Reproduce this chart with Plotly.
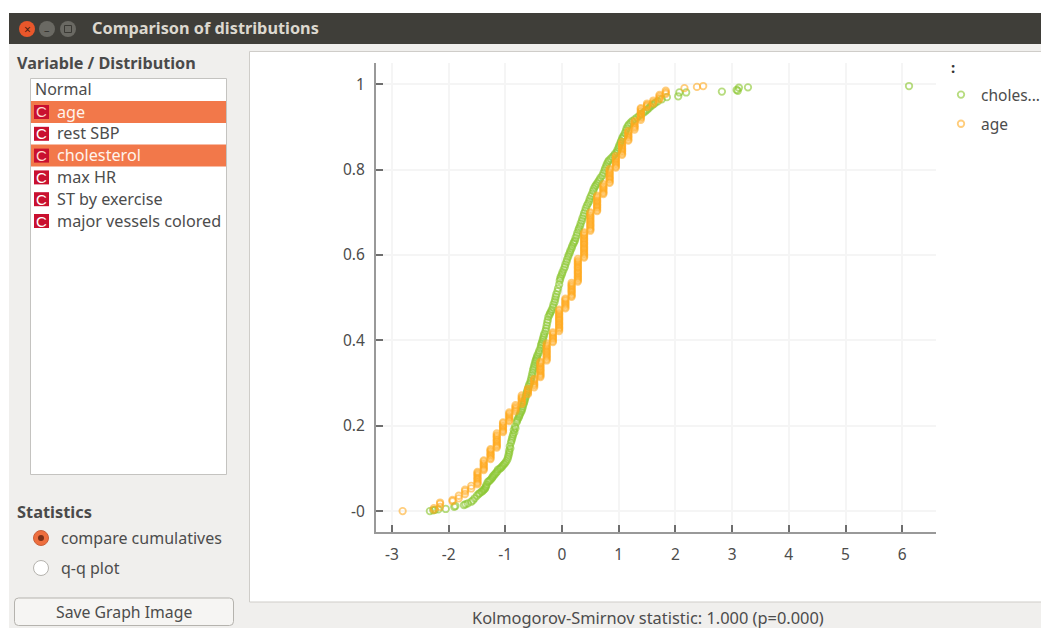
import plotly.graph_objects as go

W, H = 1041, 628

TITLE = "Comparison of distributions"
VARIABLES = ["age", "rest SBP", "cholesterol", "max HR", "ST by exercise", "major vessels colored"]
SELECTED = ["age", "cholesterol"]
X_TICKS = [-3, -2, -1, 0, 1, 2, 3, 4, 5, 6]
X_LABELS = ["-3", "-2", "-1", "0", "1", "2", "3", "4", "5", "6"]
Y_TICKS = [0, 0.2, 0.4, 0.6, 0.8, 1]
Y_LABELS = ["-0", "0.2", "0.4", "0.6", "0.8", "1"]

cholesterol_x = [-2.33, -2.27, -2.24, -2.18, -2.05, -1.90, -1.88, -1.73, -1.70, -1.66, -1.60, -1.57, -1.54, -1.50, -1.47, -1.42, -1.38, -1.35, -1.33, -1.31,
    -1.27, -1.23, -1.20, -1.16, -1.13, -1.08, -1.04, -1.00, -.96, -.94, -.93, -.92, -.90, -.88, -.86, -.85, -.83, -.80, -.78, -.75,
    -.72, -.70, -.68, -.66, -.64, -.62, -.60, -.58, -.55, -.53, -.51, -.49, -.47, -.45, -.43, -.40, -.37, -.35, -.33, -.31,
    -.28, -.26, -.24, -.21, -.18, -.15, -.12, -.10, -.07, -.04, -.02, .01, .05, .08, .11, .14, .17, .20, .23, .26,
    .29, .32, .35, .38, .41, .44, .48, .51, .55, .58, .62, .66, .71, .75, .78, .81, .86, .92, .97, 1.00,
    1.03, 1.06, 1.09, 1.13, 1.16, 1.21, 1.28, 1.36, 1.44, 1.50, 1.56, 1.62, 1.69, 1.76, 1.85, 2.05, 2.07, 2.19, 2.82, 3.08,
    3.10, 3.12, 3.28, 6.12,
    -1.45, -1.40, -1.36, -1.34, -1.29, -1.25, -1.22, -1.18, -1.14, -1.10, -1.06, -1.02, -.98, -.95, -.93, -.91, -.89, -.87, -.84, -.82, -.79, -.76, -.74, -.71,
    -.69, -.67, -.65, -.63, -.61, -.59, -.56, -.54, -.52, -.50, -.48, -.46, -.44, -.41, -.38, -.36, -.34, -.32, -.29, -.27, -.25, -.22, -.19, -.16, -.13, -.11,
    -.08, -.05, -.03, .00, .03, .06, .09, .12, .15, .18, .21, .24, .27, .30, .33, .36, .39, .42, .46, .49, .53, .56, .60, .64, .68, .73, .76, .79, .83, .89, .94, .98,
    1.01, 1.04, 1.07, 1.11, 1.14, 1.18, 1.24, 1.32, 1.40, 1.47, 1.53, 1.59, 1.65]
cholesterol_y = [0, .002, .003, .004, .005, .010, .012, .014, .016, .018, .022, .025, .030, .036, .040, .045, .050, .055, .062, .068,
    .072, .078, .084, .090, .097, .101, .107, .113, .122, .132, .142, .152, .160, .170, .180, .190, .198, .208, .216, .224,
    .232, .240, .250, .258, .268, .278, .286, .296, .306, .318, .330, .340, .350, .358, .366, .376, .388, .396, .406, .416,
    .428, .442, .455, .464, .472, .484, .496, .508, .522, .540, .550, .560, .572, .584, .596, .606, .616, .626, .634, .646,
    .658, .668, .680, .692, .704, .716, .726, .738, .750, .760, .768, .776, .786, .798, .808, .818, .826, .834, .842, .852,
    .862, .872, .880, .892, .902, .910, .918, .926, .934, .940, .948, .954, .960, .965, .970, .972, .981, .981, .983, .987,
    .985, .992, .993, .996,
    .042, .047, .052, .058, .070, .075, .081, .087, .093, .099, .104, .110, .117, .127, .137, .147, .165, .175, .185, .194, .212, .220, .228, .236,
    .245, .254, .263, .273, .282, .291, .301, .312, .324, .335, .345, .354, .362, .371, .382, .392, .401, .411, .422, .435, .448, .460, .468, .478, .490, .502,
    .515, .531, .545, .555, .566, .578, .590, .601, .611, .621, .630, .640, .652, .663, .674, .686, .698, .710, .721, .732, .744, .755, .764, .772, .781, .792, .803, .813, .822, .830, .838, .847,
    .857, .867, .876, .886, .897, .906, .914, .922, .930, .937, .944, .951, .957]

age_x = [-2.81, -2.26, -2.26, -2.15, -2.15, -2.15, -1.93, -1.93, -1.82, -1.82, -1.71, -1.71, -1.71, -1.60, -1.60,
    -1.49, -1.49, -1.49, -1.49, -1.49, -1.38, -1.38, -1.38, -1.38, -1.26, -1.26, -1.26, -1.26,
    -1.15, -1.15, -1.15, -1.15, -1.15, -1.15, -1.04, -1.04, -1.04, -1.04, -.93, -.93, -.93, -.93,
    -.82, -.82, -.82, -.71, -.71, -.71, -.71, -.60, -.60, -.60, -.49, -.49, -.49, -.49,
    -.38, -.38, -.38, -.38, -.38, -.38, -.27, -.27, -.27, -.27, -.27, -.27, -.27, -.16, -.16, -.16, -.16,
    -.05, -.05, -.05, -.05, -.05, -.05, -.05, -.05, -.05, .06, .06, .06, .06,
    .17, .17, .17, .17, .17, .17, .28, .28, .28, .28, .28, .28, .28, .28, .28,
    .39, .39, .39, .39, .39, .39, .39, .39, .39, .39, .50, .50, .50, .50, .50, .50, .50,
    .62, .62, .62, .62, .62, .62, .73, .73, .73, .73, .84, .84, .84, .84, .84, .84,
    .95, .95, .95, .95, .95, 1.06, 1.06, 1.06, 1.06, 1.06, 1.17, 1.17, 1.17, 1.17,
    1.28, 1.28, 1.28, 1.28, 1.39, 1.39, 1.39, 1.39, 1.39, 1.50, 1.50, 1.50, 1.61, 1.61,
    1.72, 1.72, 1.72, 1.83, 1.83, 2.16, 2.38, 2.49]
age_y = [.000, .003, .007, .010, .017, .020, .023, .026, .030, .036, .040, .046, .050, .053, .059,
    .063, .069, .076, .083, .092, .096, .102, .109, .119, .122, .129, .135, .145,
    .149, .155, .162, .168, .175, .182, .185, .191, .198, .208, .211, .218, .224, .231,
    .234, .241, .248, .251, .257, .264, .271, .274, .281, .287, .290, .297, .304, .310,
    .314, .320, .327, .333, .340, .350, .353, .360, .366, .373, .380, .386, .393, .396, .403, .409, .419,
    .422, .429, .436, .442, .449, .455, .462, .469, .472, .475, .482, .488, .498,
    .502, .508, .515, .521, .528, .535, .538, .545, .551, .558, .564, .571, .578, .584, .591,
    .594, .601, .607, .614, .620, .627, .634, .640, .647, .653, .657, .663, .670, .677, .683, .690, .700,
    .703, .710, .716, .723, .729, .739, .743, .749, .756, .766, .769, .776, .782, .789, .795, .802,
    .805, .812, .818, .825, .832, .835, .842, .848, .855, .865, .868, .875, .881, .891,
    .894, .901, .908, .914, .917, .924, .931, .937, .944, .947, .952, .955, .955, .962,
    .965, .972, .975, .978, .985, .991, .994, .996]

# further points of the same age columns, column by column
age_more = [
    (-1.49, [.066, .073, .079, .086, .089]), (-1.38, [.099, .106, .112, .116]),
    (-1.26, [.125, .132, .139, .142]), (-1.15, [.152, .158, .165, .172, .178]),
    (-1.04, [.188, .195, .201, .205]), (-.93, [.214, .221, .228]), (-.82, [.238, .244]),
    (-.71, [.254, .261, .267]), (-.60, [.277, .284]), (-.49, [.294, .300, .307]),
    (-.38, [.317, .323, .330, .337, .344, .347]), (-.27, [.356, .363, .370, .376, .383, .389]),
    (-.16, [.399, .406, .413, .416]), (-.05, [.426, .432, .439, .446, .452, .459, .465]),
    (.06, [.478, .485, .492, .495]), (.17, [.505, .512, .518, .525, .531]),
    (.28, [.541, .548, .555, .561, .568, .574, .581, .587]),
    (.39, [.597, .604, .611, .617, .624, .630, .637, .644, .650]),
    (.50, [.660, .667, .673, .680, .687, .693, .697]), (.62, [.706, .713, .719, .726, .733, .736]),
    (.73, [.746, .753, .759, .762]), (.84, [.772, .779, .785, .792, .799]),
    (.95, [.808, .815, .822, .828]), (1.06, [.838, .845, .851, .858, .861]),
    (1.17, [.871, .878, .885, .888]), (1.28, [.898, .904, .911]), (1.39, [.921, .927, .934, .941]),
    (1.50, [.950]), (1.61, [.958]), (1.72, [.968]), (1.83, [.981]),
]
for level, values in age_more:
    age_x = age_x + [level] * len(values)
    age_y = age_y + values

GREEN = "rgba(138,198,48,0.62)"
ORANGE = "rgba(255,168,30,0.58)"
FONT = "Noto Sans"
TXT = "#4c4c4c"


def fx(p):
    return p / W


def fy(p):
    return 1 - p / H


shapes = []
annotations = []


def rect(x0, y0, x1, y1, fill, line=None, lw=1):
    shapes.append(dict(type="rect", xref="paper", yref="paper", layer="below",
                       x0=fx(x0), x1=fx(x1), y0=fy(y0), y1=fy(y1), fillcolor=fill,
                       line=dict(color=line or fill, width=lw if line else 0)))


def circ(cx, cy, r, fill, line=None, lw=1):
    shapes.append(dict(type="circle", xref="paper", yref="paper", layer="below",
                       x0=fx(cx - r), x1=fx(cx + r), y0=fy(cy - r), y1=fy(cy + r), fillcolor=fill,
                       line=dict(color=line or fill, width=lw if line else 0)))


def round_rect(x0, y0, x1, y1, r, fill, line):
    X0, X1, Y0, Y1 = fx(x0), fx(x1), fy(y0), fy(y1)
    rx, ry = r / W, r / H
    path = (f"M {X0 + rx} {Y0} L {X1 - rx} {Y0} Q {X1} {Y0} {X1} {Y0 - ry} L {X1} {Y1 + ry} "
            f"Q {X1} {Y1} {X1 - rx} {Y1} L {X0 + rx} {Y1} Q {X0} {Y1} {X0} {Y1 + ry} "
            f"L {X0} {Y0 - ry} Q {X0} {Y0} {X0 + rx} {Y0} Z")
    shapes.append(dict(type="path", xref="paper", yref="paper", layer="below", path=path,
                       fillcolor=fill, line=dict(color=line, width=1)))


def label(x, y, text, size=16, color=TXT, anchor="left", family=FONT):
    annotations.append(dict(xref="paper", yref="paper", x=fx(x), y=fy(y), text=text, showarrow=False,
                            xanchor=anchor, yanchor="middle", borderpad=0,
                            font=dict(size=size, color=color, family=family)))


# window
rect(9, 44, W, H, "#f0efed")
rect(9, 13, W, 44, "#3f3e39")
circ(27, 29, 8, "#e9572b")
circ(47, 29, 8, "#6a6963")
circ(68, 29, 8, "#6a6963")
label(27, 29, "×", 12, "#4a2012", "center")
label(47, 29, "–", 11, "#33322e", "center")
rect(64.5, 25.5, 71.5, 32.5, "#6a6963", "#3a3934", 1)
label(91, 28, "<b>" + TITLE + "</b>", 16.3, "#dcd8cf")

# left panel
label(15.5, 62.5, "<b>Variable / Distribution</b>", 16.2, "#4a4a4a")
rect(30.5, 78.5, 226.5, 474.5, "#ffffff", "#c4c3c0", 1)
label(33.5, 89.5, "Normal", 16)
for i, name in enumerate(VARIABLES):
    cy = 112 + i * 21.8
    selected = name in SELECTED
    if selected:
        rect(31, cy - 11, 226, cy + 11, "#f2784a")
    rect(34, cy - 7, 49, cy + 7, "#c9102f")
    label(41.5, cy, "C", 15, "#ffd9d0" if selected else "#ffffff", "center", "Liberation Sans")
    label(55.5, cy - 0.5, name, 16.2, "#fff3ec" if selected else TXT)

label(15.5, 511, "<b>Statistics</b>", 16.4, "#4a4a4a")
circ(41, 538, 7.5, "#ee6e3e", "#c9603a", 1)
circ(41, 538, 3, "#7a3018")
label(59.5, 537.5, "compare cumulatives", 16)
circ(41, 568, 7.5, "#ffffff", "#b5b3ae", 1)
label(59.5, 567.5, "q-q plot", 16)
round_rect(14.5, 598, 233.5, 625.5, 4, "#f6f5f3", "#b5b3ae")
label(123.5, 611.5, "Save Graph Image", 15.8, TXT, "center")

# graph panel
rect(249.5, 51.5, W + 2, 602, "#ffffff", "#cfcdc9", 1)
label(648, 617.5, "Kolmogorov-Smirnov statistic: 1.000 (p=0.000)", 16.4, TXT, "center")
label(953, 67, "<b>:</b>", 15, "#333333", "center")

fig = go.Figure()
fig.add_trace(go.Scatter(x=cholesterol_x, y=cholesterol_y, mode="markers", name="choles...",
                         legendgroup="a", cliponaxis=False,
                         marker=dict(symbol="circle-open", size=6.5, color=GREEN, line=dict(width=1.8, color=GREEN))))
fig.add_trace(go.Scatter(x=age_x, y=age_y, mode="markers", name="age",
                         legendgroup="b", cliponaxis=False,
                         marker=dict(symbol="circle-open", size=6.5, color=ORANGE, line=dict(width=1.8, color=ORANGE))))

fig.update_layout(
    width=W, height=H, margin=dict(l=0, r=0, t=0, b=0, autoexpand=False),
    paper_bgcolor="#ffffff", plot_bgcolor="rgba(0,0,0,0)",
    font=dict(family=FONT, color=TXT, size=16),
    shapes=shapes, annotations=annotations,
    legend=dict(x=fx(941), y=fy(78), xanchor="left", yanchor="top", bgcolor="rgba(0,0,0,0)",
                tracegroupgap=6, font=dict(size=15.5, color=TXT)),
    xaxis=dict(domain=[fx(376), fx(936)], range=[-3.28, 6.596], tickvals=X_TICKS, ticktext=X_LABELS,
               ticks="inside", ticklen=7, tickwidth=1.5, tickcolor="#6e6e6e",
               showgrid=True, gridcolor="#f5f5f5", gridwidth=1.5, zeroline=False,
               showline=True, linecolor="#999999", linewidth=2,
               tickfont=dict(size=15.5), ticklabelstandoff=7),
    yaxis=dict(domain=[fy(532), fy(63)], range=[-0.049, 1.050], tickvals=Y_TICKS, ticktext=Y_LABELS,
               ticks="inside", ticklen=7, tickwidth=1.5, tickcolor="#6e6e6e",
               showgrid=True, gridcolor="#f5f5f5", gridwidth=1.5, zeroline=False,
               showline=True, linecolor="#999999", linewidth=2,
               tickfont=dict(size=15.5), ticklabelstandoff=6),
)

fig.write_html("out.html", config=dict(displayModeBar=False),
               post_script="document.body.style.margin='0';document.body.style.overflow='hidden';")
